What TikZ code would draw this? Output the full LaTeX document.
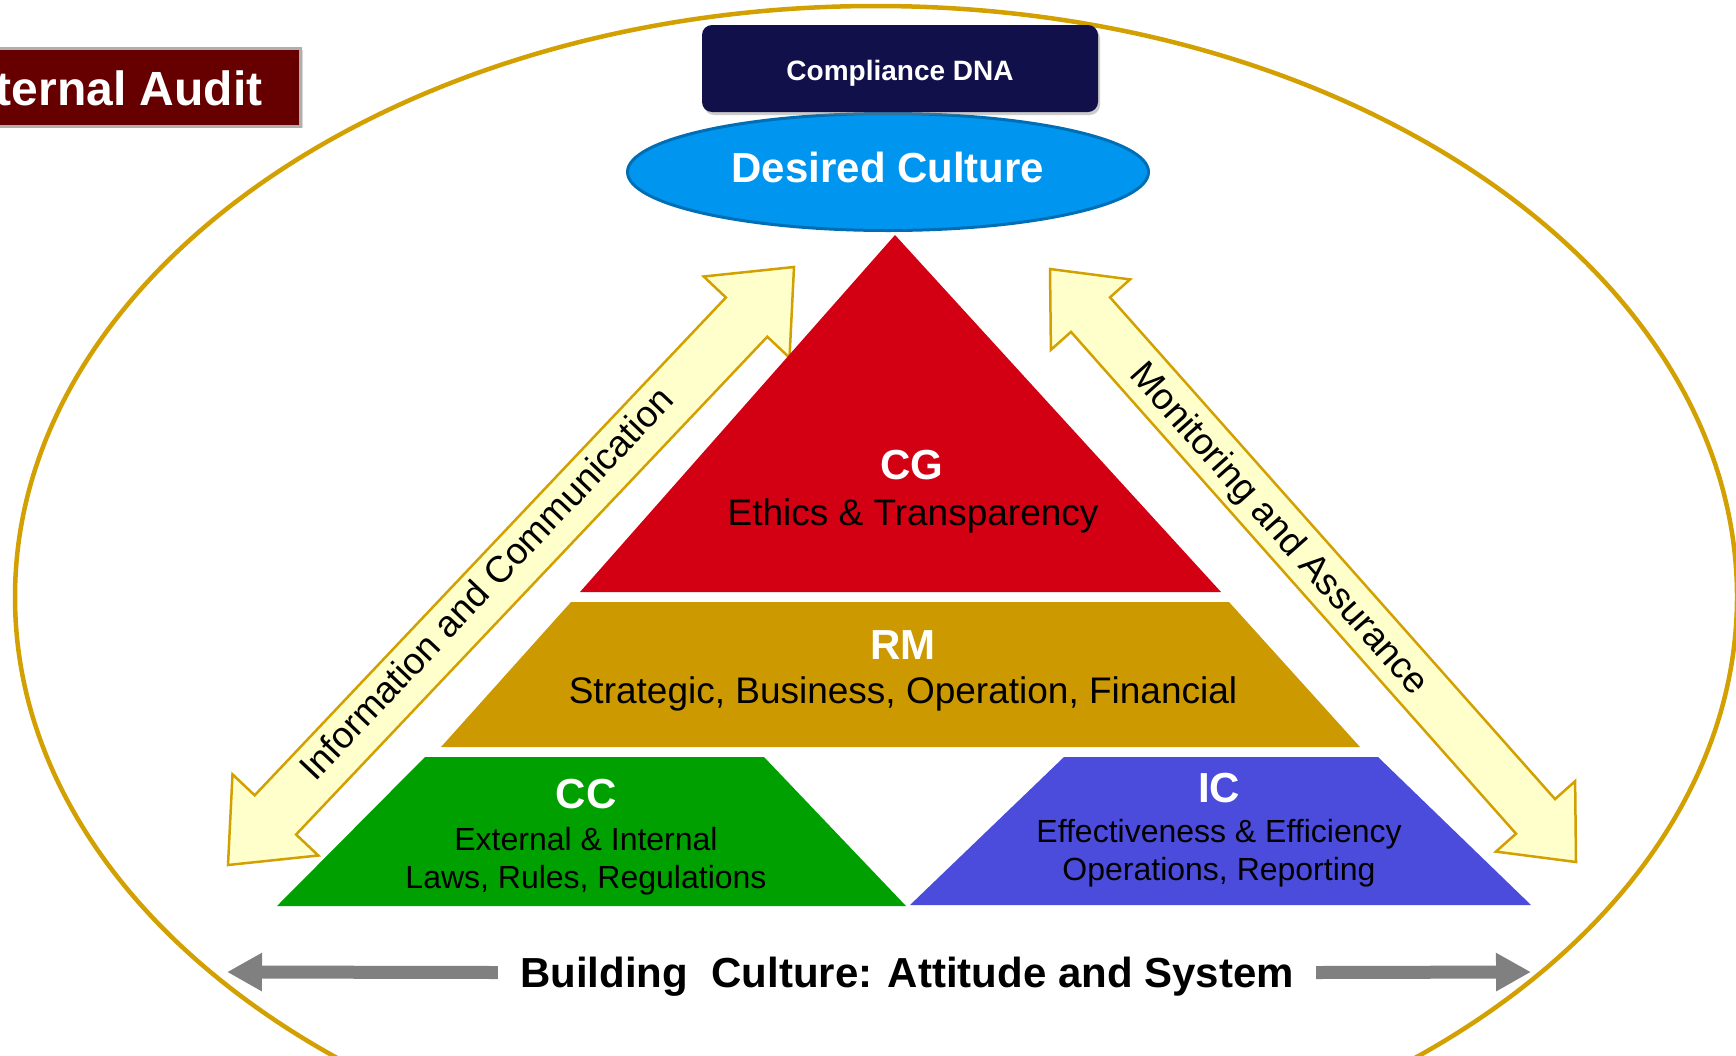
\documentclass[tikz,border=0pt]{standalone}
\usepackage{fontspec}
\setmainfont{Liberation Sans}
\usetikzlibrary{shapes.geometric,arrows.meta,shadows}

\definecolor{ringgold}{RGB}{210,160,0}
\definecolor{paleyellow}{RGB}{255,255,204}
\definecolor{cgred}{RGB}{210,0,18}
\definecolor{rmgold}{RGB}{204,153,0}
\definecolor{ccgreen}{RGB}{0,160,0}
\definecolor{icblue}{RGB}{76,76,220}
\definecolor{culturefill}{RGB}{0,150,240}
\definecolor{cultureline}{RGB}{0,110,180}
\definecolor{dnanavy}{RGB}{18,16,74}
\definecolor{auditred}{RGB}{102,0,0}
\definecolor{auditline}{RGB}{175,175,175}
\definecolor{arrowgray}{RGB}{128,128,128}

\begin{document}
\begin{tikzpicture}[x=1pt, y=-1pt,
        ringline/.style={draw=ringgold, line width=4.5pt},
        flowarrow/.style={fill=paleyellow, draw=ringgold, line width=2.5pt},
        flowtext/.style={inner sep=0pt, font=\fontsize{37}{44}\selectfont},
        layerhead/.style={anchor=base, inner sep=0pt, text=white, font=\fontsize{42}{50}\selectfont\bfseries},
        layerbody/.style={anchor=base, inner sep=0pt, font=\fontsize{37}{44}\selectfont},
        layersmall/.style={anchor=base, inner sep=0pt, font=\fontsize{32}{38}\selectfont},
        grayarrow/.style={draw=arrowgray, line width=13pt, -{Triangle[length=35pt, width=36pt]}}]

        % Fix the page
        \useasboundingbox (0,0) rectangle (1736,1055);
        \clip (0,0) rectangle (1736,1055);
        \fill[white] (0,0) rectangle (1736,1055);

        % Draw the outer ring
        \draw[ringline] (876,597) ellipse [x radius=861pt, y radius=591pt];

        % Draw the two double arrows
        \draw[flowarrow] (794,267) -- (789.5,357.7) -- (767.3,336.7) -- (296.1,834.5) -- (318.3,855.5)
            -- (228,865) -- (232.5,774.3) -- (254.7,795.3) -- (725.9,297.5) -- (703.7,276.5) -- cycle;
        \draw[flowarrow] (1050,269) -- (1130.1,279.4) -- (1110,297.3) -- (1555,799.1) -- (1575.1,781.2)
            -- (1576,862) -- (1495.9,851.6) -- (1516,833.7) -- (1071,331.9) -- (1050.9,349.8) -- cycle;
        \node[flowtext, rotate=46.57] (infotext) at (486,583) {Information and Communication};
        \node[flowtext, rotate=-48.4] (monitortext) at (1278,530) {Monitoring and Assurance};

        % Draw the pyramid
        \fill[cgred] (895,235) -- (1221,592) -- (580,592) -- cycle;
        \fill[rmgold] (571,602) -- (1229,602) -- (1360,747) -- (441,747) -- cycle;
        \fill[ccgreen] (425,757) -- (764,757) -- (906,906) -- (277,906) -- cycle;
        \fill[icblue] (1064,757) -- (1378,757) -- (1531,905) -- (910,905) -- cycle;

        % Add the texts to the layers
        \node[layerhead] (cg) at (912,479) {CG};
        \node[layerbody] (cgtext) at (913,525) {Ethics \& Transparency};
        \node[layerhead] (rm) at (903,659) {RM};
        \node[layerbody] (rmtext) at (903,703) {Strategic, Business, Operation, Financial};
        \node[layerhead] (cc) at (586,808) {CC};
        \node[layersmall] (cctext) at (586,850) {External \& Internal};
        \node[layersmall] (cctextb) at (586,888) {Laws, Rules, Regulations};
        \node[layerhead] (ic) at (1219,802) {IC};
        \node[layersmall] (ictext) at (1219,842) {Effectiveness \& Efficiency};
        \node[layersmall] (ictextb) at (1219,880) {Operations, Reporting};

        % Draw the top of the pyramid
        \node[ellipse, minimum width=521pt, minimum height=117pt, inner sep=0pt, fill=culturefill,
            draw=cultureline, line width=3pt, text=white, font=\fontsize{42}{50}\selectfont\bfseries,
            text height=30pt, text depth=10pt] (culture) at (888,172) {Desired Culture};
        \node[rectangle, rounded corners=10pt, minimum width=396pt, minimum height=87pt, inner sep=0pt,
            fill=dnanavy, text=white, font=\fontsize{28}{34}\selectfont\bfseries, text height=23pt,
            text depth=0pt, drop shadow={shadow xshift=2pt, shadow yshift=-3pt, opacity=0.4}] (dna) at (900,68.5) {Compliance DNA};

        % Title box
        \node[anchor=east, minimum height=78pt, inner xsep=38pt, inner ysep=0pt, fill=auditred,
            draw=auditline, line width=3pt, text=white, font=\fontsize{48}{56}\selectfont\bfseries,
            text height=36pt, text depth=0pt, drop shadow={shadow xshift=2pt, shadow yshift=-2pt, opacity=0.3}] (audit) at (302,87) {ternal Audit};

        % Bottom line
        \node[inner xsep=22pt, inner ysep=0pt, font=\fontsize{42}{50}\selectfont\bfseries,
            text height=29pt, text depth=0pt] (building) at (907,972.5) {Building~~Culture: Attitude and System};
        \coordinate (leftend) at (227,972);
        \coordinate (rightend) at (1531,972);
        \draw[grayarrow] (building.west) -- (leftend);
        \draw[grayarrow] (building.east) -- (rightend);
\end{tikzpicture}
\end{document}
